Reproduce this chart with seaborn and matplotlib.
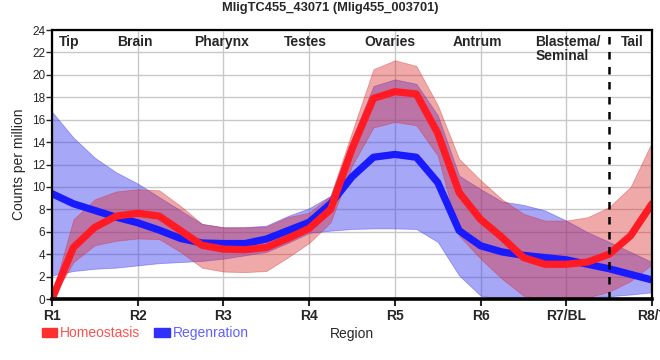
import numpy as np
import pandas as pd
import seaborn as sns
import matplotlib.pyplot as plt
from matplotlib.patches import Patch

# region positions (R1..R8 = 0..7), sampled every quarter region
pos = np.arange(0, 7.01, 0.25)

homeo_mean = [0, 4.6, 6.4, 7.4, 7.65, 7.4, 6.1, 4.8, 4.45, 4.4, 4.6, 5.4, 6.3, 8.0,
              13.4, 17.9, 18.5, 18.3, 14.8, 9.5, 7.1, 5.5, 3.7, 3.1, 3.1, 3.3, 4.0, 5.65, 8.5]
homeo_upper = [0.3, 7.1, 8.9, 9.6, 9.8, 9.7, 8.3, 6.7, 6.4, 6.4, 6.45, 7.3, 7.7, 9.2,
               14.9, 20.5, 21.3, 20.8, 17.3, 12.5, 10.6, 8.9, 7.6, 7.0, 7.0, 7.3, 8.2, 10.0, 14.0]
homeo_lower = [0, 3.3, 4.8, 5.2, 5.4, 5.35, 4.2, 2.8, 2.45, 2.4, 2.5, 3.7, 5.0, 6.85,
               11.9, 15.3, 15.8, 15.5, 12.8, 5.65, 3.6, 1.8, 0.3, 0.0, 0.1, 0.15, 0.65, 1.6, 3.1]

regen_mean = [9.4, 8.5, 7.9, 7.3, 6.8, 6.15, 5.4, 5.0, 4.95, 4.95, 5.35, 6.1, 6.85, 8.5,
              10.9, 12.65, 12.9, 12.65, 10.4, 6.1, 4.75, 4.2, 3.9, 3.7, 3.5, 3.1, 2.7, 2.2, 1.7]
regen_upper = [16.7, 14.4, 12.6, 11.3, 10.3, 9.1, 7.9, 6.7, 6.4, 6.4, 6.55, 7.4, 8.1, 9.2,
               14.3, 19.0, 19.6, 19.2, 16.4, 11.0, 9.8, 8.7, 8.4, 7.9, 7.0, 5.95, 5.1, 4.2, 3.3]
regen_lower = [2.1, 2.5, 2.7, 2.8, 3.0, 3.2, 3.3, 3.4, 3.6, 3.9, 4.2, 5.0, 5.9, 6.1,
               6.25, 6.3, 6.3, 6.25, 5.1, 2.1, 0.3, 0.0, 0.0, 0.0, 0.1, 0.15, 0.25, 0.4, 0.6]

region_ticks = ['R1', 'R2', 'R3', 'R4', 'R5', 'R6', 'R7/BL', 'R8/T']
tissues = ['Tip', 'Brain', 'Pharynx', 'Testes', 'Ovaries', 'Antrum', 'Blastema/\nSeminal', 'Tail']
tissue_x = [0.085, 0.76, 1.66, 2.71, 3.64, 4.67, 5.64, 6.64]

df = pd.DataFrame({'pos': pos, 'homeo': homeo_mean, 'regen': regen_mean})

sns.set_style('white')
plt.rcParams['font.family'] = ['Liberation Sans', 'DejaVu Sans']

fig = plt.figure(figsize=(6.6, 3.6), dpi=100)
ax = fig.add_axes([0.0788, 0.1694, 0.9091, 0.7472])

# blue band + line first, red on top
ax.fill_between(pos, regen_lower, regen_upper, color=(0.24, 0.24, 0.94), alpha=0.45, lw=0.6)
sns.lineplot(data=df, x='pos', y='regen', ax=ax, color='#1a1aff', lw=5.2)
ax.fill_between(pos, homeo_lower, homeo_upper, color=(0.86, 0.16, 0.16), alpha=0.4, lw=0.6)
sns.lineplot(data=df, x='pos', y='homeo', ax=ax, color='#ff1a24', lw=5.2)

ax.axvline(6.5, color='black', ls=(0, (3, 3)), lw=1.8)

ax.set_xlim(0, 7)
ax.set_ylim(0, 24)
ax.set_xticks(range(8))
ax.set_xticklabels(region_ticks, fontweight='bold', fontsize=10)
ax.set_yticks(range(0, 25, 2))
ax.tick_params(axis='y', labelsize=8.5, length=4, width=1, direction='out', pad=1, left=True)
ax.tick_params(axis='x', length=5, width=1.5, direction='out', pad=2, bottom=True)
ax.grid(True, color='#c8c8c8', lw=1)
ax.set_axisbelow(True)
for s in ax.spines.values():
    s.set_color('black')
    s.set_linewidth(1.6)
ax.spines['bottom'].set_linewidth(2.6)
ax.set_xlabel('Region', fontsize=10, labelpad=3)
ax.set_ylabel('Counts per million', fontsize=10, labelpad=4)

for name, tx in zip(tissues, tissue_x):
    ax.text(tx, 23.6, name, ha='left', va='top', fontweight='bold', fontsize=10,
            linespacing=1.0)

fig.suptitle('MligTC455_43071 (Mlig455_003701)', x=0.5, y=0.995, fontsize=9.3,
             fontweight='bold')

handles = [Patch(color='#ff3030'), Patch(color='#3030ff')]
fig.legend(handles, ['Homeostasis', 'Regenration'], loc='lower left', ncol=2,
           bbox_to_anchor=(0.045, 0.02), frameon=False, handlelength=1.1, handleheight=0.6,
           handletextpad=0.2, columnspacing=1.0, labelcolor=['#ff5050', '#6060ff'],
           prop={'size': 10})

fig.savefig('out.png', dpi=100)
